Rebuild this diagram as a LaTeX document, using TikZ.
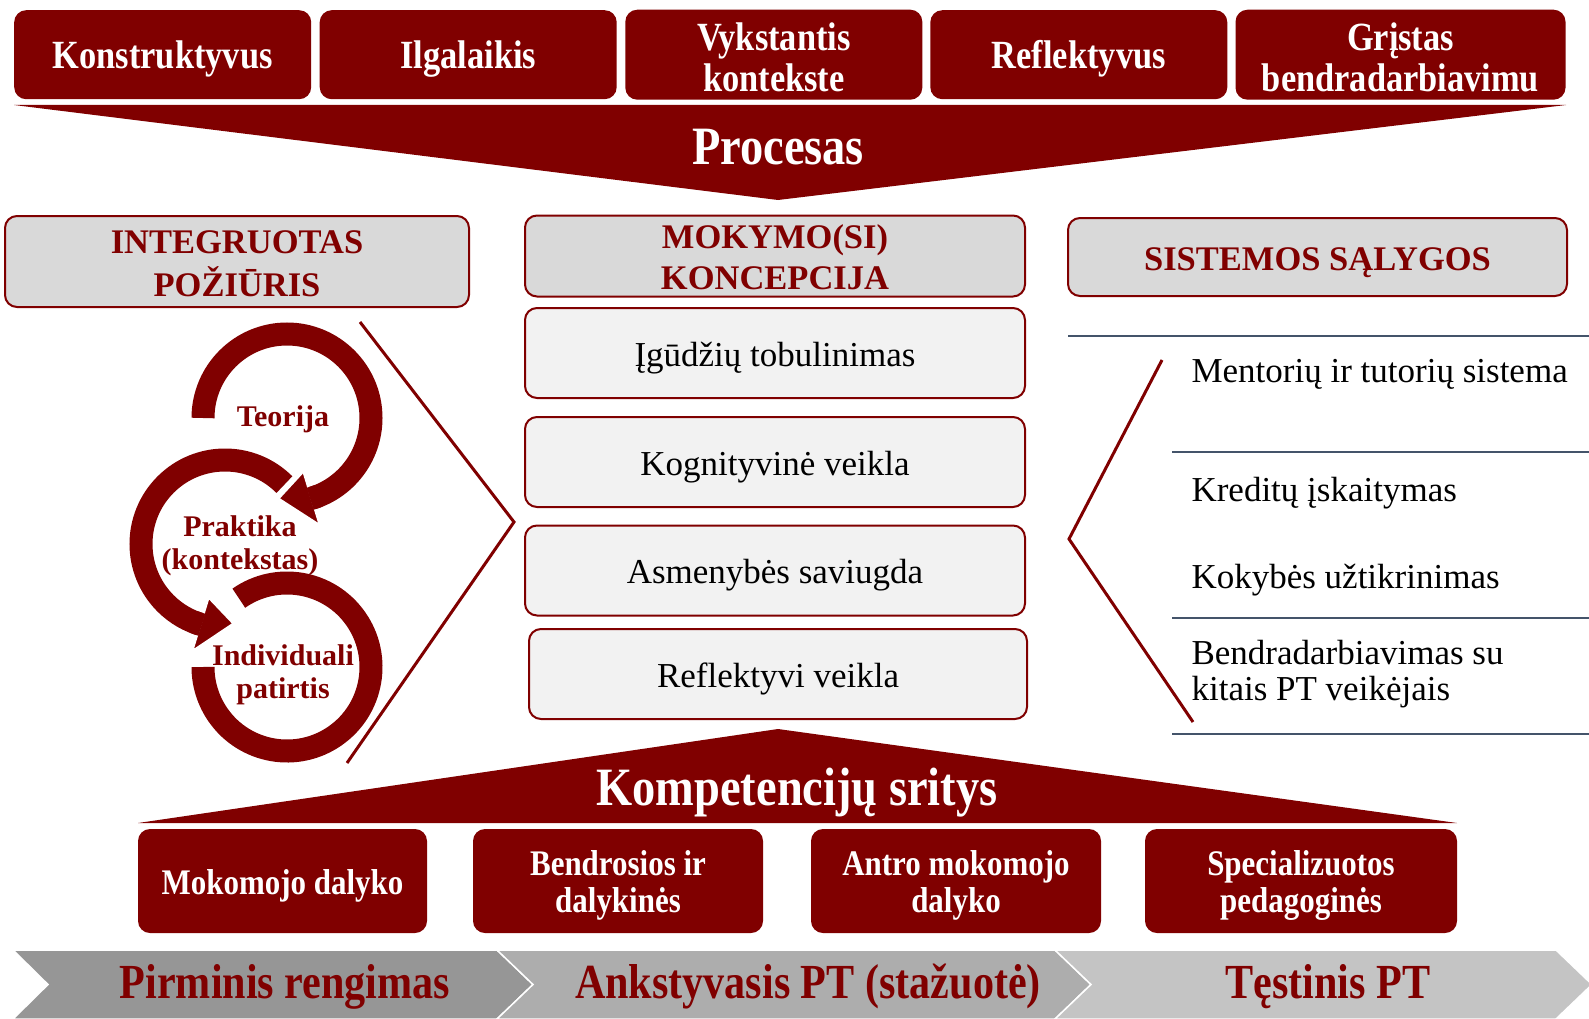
\documentclass[tikz,border=0pt]{standalone}
\usepackage{fontspec}
\setmainfont{Liberation Serif}
\newfontfamily\condfont[FakeStretch=0.86]{Liberation Serif}
\usepackage{xcolor}
\usetikzlibrary{positioning}
\definecolor{dred}{RGB}{128,0,0}
\definecolor{hdgray}{RGB}{217,217,217}
\definecolor{boxgray}{RGB}{242,242,242}
\definecolor{slate}{RGB}{68,84,106}
\definecolor{chA}{RGB}{150,150,150}
\definecolor{chB}{RGB}{173,173,173}
\definecolor{chC}{RGB}{196,196,196}

\begin{document}
\begin{tikzpicture}[
  x=1pt, y=-1pt,
  tb/.style={fill=dred, rounded corners=12pt, minimum height=89pt, minimum width=297pt, inner sep=0pt, align=center, text=white, font=\condfont\bfseries\fontsize{40}{41}\selectfont},
  tbs/.style={tb, text height=37.5pt, text depth=9pt},
  cb/.style={fill=dred, rounded corners=12pt, minimum height=104pt, minimum width=290pt, inner sep=0pt, align=center, text=white, font=\condfont\bfseries\fontsize{36}{37}\selectfont},
  hd/.style={draw=dred, line width=2pt, fill=hdgray, rounded corners=12pt, inner sep=0pt, align=center, text=dred, font=\bfseries\fontsize{34.5}{41}\selectfont},
  mb/.style={draw=dred, line width=2pt, fill=boxgray, rounded corners=12pt, inner sep=0pt, minimum width=500pt, minimum height=90pt, text height=34.3pt, text depth=8pt, font=\fontsize{35}{40}\selectfont},
  big/.style={text=white, text height=47.5pt, text depth=12pt, font=\condfont\bfseries\fontsize{54}{60}\selectfont},
  stage/.style={text=dred, text height=42pt, text depth=11pt, font=\condfont\bfseries\fontsize{49}{55}\selectfont},
  cyc/.style={text=dred, align=center, font=\bfseries\fontsize{30}{33}\selectfont},
  cond/.style={anchor=west, align=left, font=\fontsize{35}{36.5}\selectfont},
  ring/.style={draw=dred, line width=23pt},
  head/.style={fill=dred, draw=white, line width=2pt},
  bra/.style={draw=dred, line width=3pt},
  rule/.style={draw=slate, line width=2pt}
]
  \useasboundingbox (0,0) rectangle (1589,1019);

  % top row
  \node[tbs] (t1) at (162.7,54.7) {Konstruktyvus};
  \node[tbs] (t2) at (468.2,54.7) {Ilgalaikis};
  \node[tb] (t3) at (773.8,54.7) {\rule{0pt}{41pt}Vykstantis\\kontekste\rule[-8pt]{0pt}{8pt}};
  \node[tbs] (t4) at (1078.8,54.7) {Reflektyvus};
  \node[tb, minimum width=330pt] (t5) at (1400.5,54.7) {\rule{0pt}{41pt}Grįstas\\bendradarbiavimu\rule[-8pt]{0pt}{8pt}};
  \fill[dred] (14,105) -- (1566,105) -- (778,200) -- cycle;
  \node[big] (proc) at (778,147) {Procesas};

  % headers
  \node[hd, minimum width=464pt, minimum height=91pt] (h1) at (237,261.5) {\rule{0pt}{34pt}INTEGRUOTAS\\[1.5pt]POŽIŪRIS\rule[-7pt]{0pt}{7pt}};
  \node[hd, minimum width=500pt, minimum height=78pt] (h2) at (775,256) {\rule{0pt}{33pt}MOKYMO(SI)\\KONCEPCIJA\rule[-7pt]{0pt}{7pt}};
  \node[hd, minimum width=499pt, minimum height=78pt, text height=33pt, text depth=7pt] (h3) at (1317.5,257) {SISTEMOS SĄLYGOS};

  % middle column
  \node[mb] (m1) at (775,353) {Įgūdžių tobulinimas};
  \node[mb] (m2) at (775,462) {Kognityvinė veikla};
  \node[mb] (m3) at (775,570.5) {Asmenybės saviugda};
  \node[mb, minimum width=498pt] (m4) at (778,674) {Reflektyvi veikla};

  % left cycle
  \begin{scope}[shift={(287,667)}, y=1pt]
    \draw[ring] (125:84) arc (125:-180:84);
  \end{scope}
  \begin{scope}[shift={(225,544)}, y=1pt]
    \draw[ring] (45:84) arc (45:255:84);
    \draw[head] (253:56) -- (253:112) -- (276:80) -- cycle;
    \draw[ring] (248:84) arc (248:254:84);
  \end{scope}
  \begin{scope}[shift={(287,418)}, y=1pt]
    \draw[ring] (180:84) arc (180:-75:84);
    \draw[head] (-73:56) -- (-73:112) -- (-96:81) -- cycle;
    \draw[ring] (-68:84) arc (-68:-74:84);
  \end{scope}
  \node[cyc] (teo) at (283,419) {Teorija};
  \node[cyc] (pra) at (240,546) {Praktika\\(kontekstas)};
  \node[cyc] (ind) at (283,675) {Individuali\\patirtis};
  \draw[bra] (360,322) -- (514,522) -- (347,763);

  % right column
  \draw[rule] (1068,336) -- (1589,336);
  \draw[rule] (1172,452) -- (1589,452);
  \draw[rule] (1172,618) -- (1589,618);
  \draw[rule] (1172,734) -- (1589,734);
  \draw[bra] (1162,360) -- (1069,539) -- (1193,722);
  \node[cond] (s1) at (1188,374) {Mentorių ir tutorių sistema};
  \node[cond] (s2) at (1188,493) {Kreditų įskaitymas};
  \node[cond] (s3) at (1188,580) {Kokybės užtikrinimas};
  \node[cond] (s4) at (1188,674) {Bendradarbiavimas su\\kitais PT veikėjais};

  % competences
  \fill[dred] (138,823) -- (1457,823) -- (778,729) -- cycle;
  \node[big] (komp) at (797,788) {Kompetencijų sritys};
  \node[cb, minimum width=289pt, text height=34.8pt, text depth=8pt] (c1) at (282.5,881) {Mokomojo dalyko};
  \node[cb] (c2) at (618,881) {\rule{0pt}{34pt}Bendrosios ir\\dalykinės\rule[-9pt]{0pt}{9pt}};
  \node[cb] (c3) at (956,881) {\rule{0pt}{34pt}Antro mokomojo\\dalyko\rule[-9pt]{0pt}{9pt}};
  \node[cb, minimum width=312pt] (c4) at (1301,881) {\rule{0pt}{34pt}Specializuotos\\pedagoginės\rule[-9pt]{0pt}{9pt}};

  % stages
  \filldraw[fill=chA, draw=white, line width=1.5pt] (13,950) -- (497,950) -- (533,984.5) -- (497,1019) -- (13,1019) -- (48,984.5) -- cycle;
  \filldraw[fill=chB, draw=white, line width=1.5pt] (497,950) -- (1055,950) -- (1091,984.5) -- (1055,1019) -- (497,1019) -- (533,984.5) -- cycle;
  \filldraw[fill=chC, draw=white, line width=1.5pt] (1055,950) -- (1556,950) -- (1592,984.5) -- (1556,1019) -- (1055,1019) -- (1091,984.5) -- cycle;
  \node[stage] (p1) at (285,983) {Pirminis rengimas};
  \node[stage] (p2) at (808,983) {Ankstyvasis PT (stažuotė)};
  \node[stage] (p3) at (1328,983) {Tęstinis PT};
\end{tikzpicture}
\end{document}
